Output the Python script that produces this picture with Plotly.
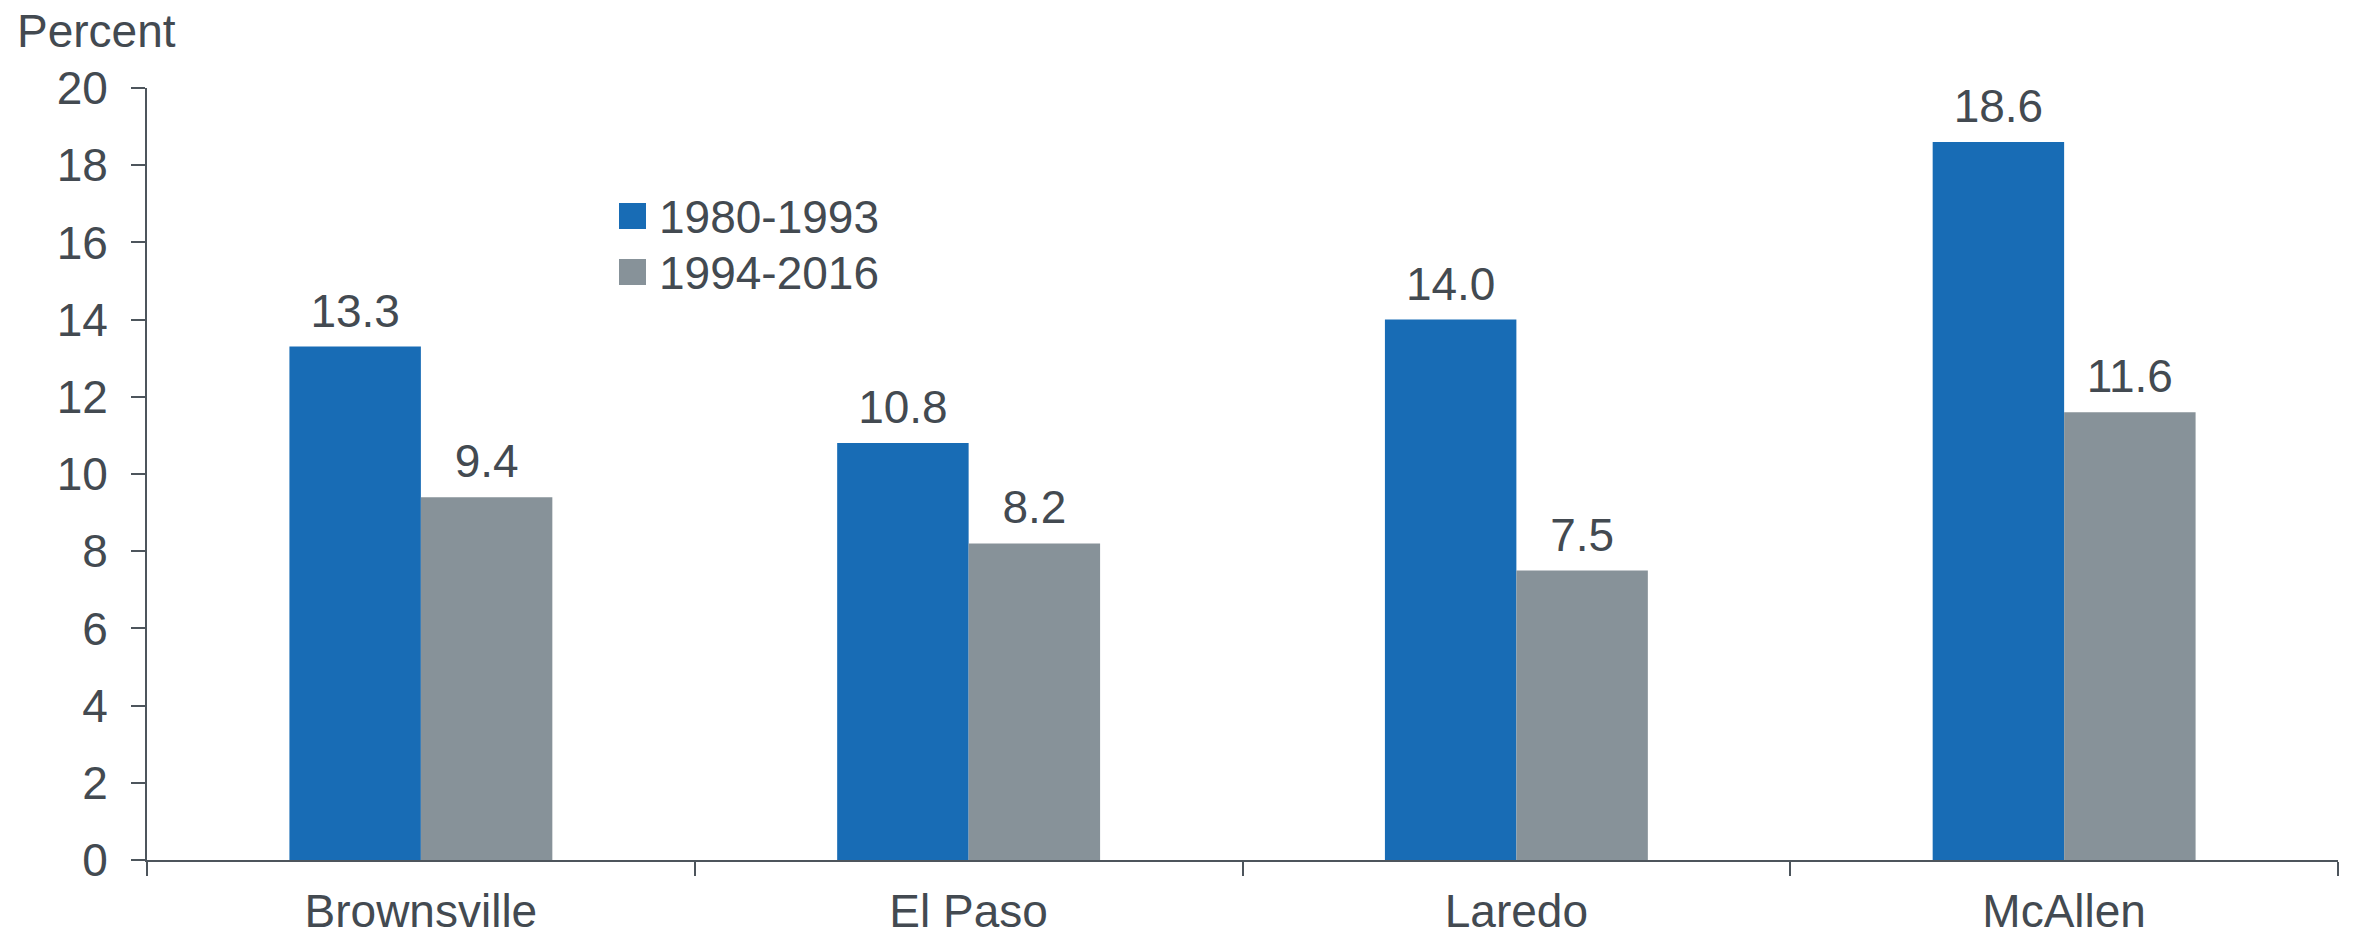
import plotly.graph_objects as go

cities = ["Brownsville", "El Paso", "Laredo", "McAllen"]
series_names = ["1980-1993", "1994-2016"]
period_1980_1993 = [13.3, 10.8, 14.0, 18.6]
period_1994_2016 = [9.4, 8.2, 7.5, 11.6]
y_ticks = [0, 2, 4, 6, 8, 10, 12, 14, 16, 18, 20]

BLUE = "#186cb5"
GREY = "#879299"
TEXT = "#434a51"
AXIS = "#4d555c"
FONT = "Liberation Sans, Arial, sans-serif"
FS = 46

series = [(series_names[0], period_1980_1993, BLUE),
          (series_names[1], period_1994_2016, GREY)]

fig = go.Figure()
for i, (name, values, color) in enumerate(series):
    fig.add_trace(go.Bar(
        x=cities, y=values, name=name, offsetgroup=str(i),
        marker=dict(color=color, line=dict(width=0)),
        showlegend=False, hoverinfo="x+y",
    ))
    # value labels sit above each bar, aligned with its group slot
    fig.add_trace(go.Scatter(
        x=cities, y=values, offsetgroup=str(i), mode="markers+text",
        marker=dict(size=12, color="rgba(0,0,0,0)"),
        text=[f"{v:.1f}" for v in values], textposition="top center",
        textfont=dict(size=FS, color=TEXT, family=FONT),
        cliponaxis=False, showlegend=False, hoverinfo="skip",
    ))

fig.update_layout(
    width=2353, height=940,
    margin=dict(l=147, r=15, t=88, b=80),
    paper_bgcolor="white", plot_bgcolor="white",
    barmode="group", bargap=0.52, bargroupgap=0,
    scattermode="group", scattergap=0.52,
    font=dict(family=FONT, size=FS, color=TEXT),
    showlegend=False,
)
fig.update_xaxes(
    type="category", showline=True, linecolor=AXIS, linewidth=2,
    ticks="outside", tickson="boundaries", ticklen=14, tickwidth=2, tickcolor=AXIS,
    showgrid=False, tickfont=dict(size=FS, color=TEXT, family=FONT),
    ticklabelstandoff=10, automargin=False,
)
fig.update_yaxes(
    range=[0, 20], tickvals=y_ticks, showline=True, linecolor=AXIS, linewidth=2,
    ticks="outside", ticklen=14, tickwidth=2, tickcolor=AXIS,
    showgrid=False, zeroline=False, tickfont=dict(size=FS, color=TEXT, family=FONT),
    ticklabelstandoff=14, automargin=False,
)

# y-axis unit label
fig.add_annotation(
    text="Percent", xref="paper", yref="paper", x=(15 - 147) / 2191, y=(860 - 31) / 772,
    xanchor="left", yanchor="middle", showarrow=False,
    font=dict(size=FS, color=TEXT, family=FONT),
)

# legend: colour squares with labels
for i, (name, values, color) in enumerate(series):
    top = 203 + i * 56
    fig.add_shape(
        type="rect", xref="paper", yref="paper",
        x0=(619 - 147) / 2191, x1=(646 - 147) / 2191,
        y0=(860 - top) / 772, y1=(860 - top - 26) / 772,
        fillcolor=color, line=dict(width=0),
    )
    fig.add_annotation(
        text=name, xref="paper", yref="paper",
        x=(657 - 147) / 2191, y=(860 - top - 14) / 772,
        xanchor="left", yanchor="middle", showarrow=False,
        font=dict(size=FS, color=TEXT, family=FONT),
    )

fig.write_html("out.html")
